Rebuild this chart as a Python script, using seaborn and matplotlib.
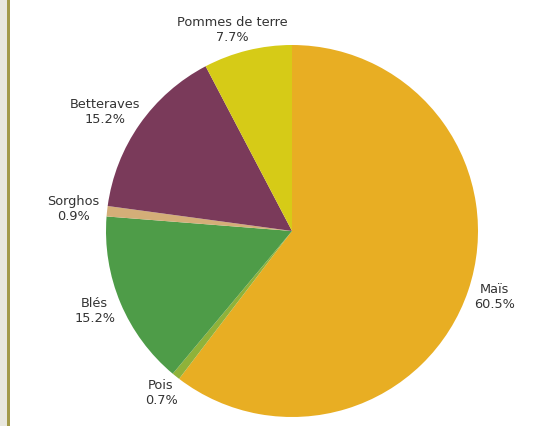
import numpy as np
import seaborn as sns
from matplotlib import pyplot as plt
from matplotlib.patches import Rectangle

# Surfaces par culture (%), dans l'ordre horaire depuis le haut
cultures = ['Maïs', 'Pois', 'Blés', 'Sorghos', 'Betteraves', 'Pommes de terre']
parts = [60.5, 0.7, 15.2, 0.9, 15.2, 7.7]
couleurs = ['#E8AE23', '#8FB23A', '#4E9C48', '#D4AE78', '#7A3A5A', '#D6CB17']

sns.set_theme(style='white')
plt.rcParams['font.family'] = ['DejaVu Sans']

fig = plt.figure(figsize=(5.48, 4.26), dpi=100)
fig.patch.set_facecolor('white')

# bande beige + filet olive a gauche
fig.add_artist(Rectangle((0, 0), 7 / 548, 1, transform=fig.transFigure,
                         facecolor='#E9E8DE', edgecolor='none'))
fig.add_artist(Rectangle((7 / 548, 0), 2.5 / 548, 1, transform=fig.transFigure,
                         facecolor='#A39A4A', edgecolor='none'))

# pie centre (292, 231) px, rayon 186 px
ax = fig.add_axes([(292 - 186) / 548, (426 - 231 - 186) / 426, 372 / 548, 372 / 426])
wedges, _ = ax.pie(parts, colors=couleurs, startangle=90, counterclock=False,
                   normalize=True, wedgeprops={'linewidth': 0})
ax.set_xlim(-1, 1)
ax.set_ylim(-1, 1)
ax.set_aspect('equal')
ax.axis('off')

# etiquettes a l'exterieur
labels = []
for w, nom, val in zip(wedges, cultures, parts):
    ang = np.deg2rad((w.theta1 + w.theta2) / 2)
    c, s = np.cos(ang), np.sin(ang)
    t = ax.annotate(f'{nom}\n{val}%', xy=(1.04 * c, 1.04 * s), xytext=(0, 0),
                    textcoords='offset pixels', ha='center', va='center',
                    multialignment='center', fontsize=9.3, color='#333333',
                    linespacing=1.2, annotation_clip=False)
    labels.append((t, c, s))

fig.canvas.draw()
r = fig.canvas.get_renderer()
for t, c, s in labels:
    bb = t.get_window_extent(r)
    t.xyann = (c * bb.width / 2, s * bb.height / 2)

fig.savefig('out.png', dpi=100)
